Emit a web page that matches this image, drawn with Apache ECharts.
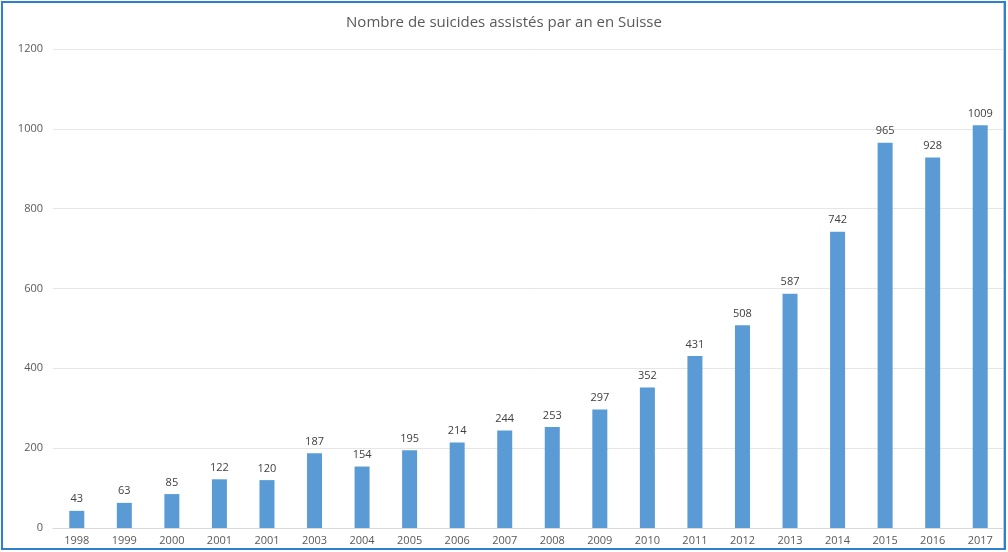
<!DOCTYPE html>
<html>
<head>
<meta charset="utf-8">
<script src="https://cdn.jsdelivr.net/npm/echarts@6/dist/echarts.min.js"></script>
<style>
html,body{margin:0;padding:0;background:#fff;}
#c{width:1008px;height:552px;}
</style>
</head>
<body>
<div id="c"></div>
<script>
const titleText = 'Nombre de suicides assistés par an en Suisse';
const categories = ['1998','1999','2000','2001','2001','2003','2004','2005','2006','2007','2008','2009','2010','2011','2012','2013','2014','2015','2016','2017'];
const values = [43,63,85,122,120,187,154,195,214,244,253,297,352,431,508,587,742,965,928,1009];
const yTicks = {min:0, max:1200, interval:200};

const chart = echarts.init(document.getElementById('c'), null, {renderer:'canvas'});
chart.setOption({
  backgroundColor:'#ffffff',
  animation:false,
  title:{
    text:titleText, left:'center', top:10,
    textStyle:{fontFamily:'Open Sans', fontSize:15, fontWeight:'normal', color:'#595959'}
  },
  grid:{left:53, right:4, top:49, bottom:24, containLabel:false},
  xAxis:{
    type:'category', data:categories,
    axisLine:{show:true, lineStyle:{color:'#d9d9d9', width:1}},
    axisTick:{show:false},
    axisLabel:{fontFamily:'Open Sans', fontSize:11, color:'#595959', margin:7, interval:0}
  },
  yAxis:{
    type:'value', min:yTicks.min, max:yTicks.max, interval:yTicks.interval,
    axisLine:{show:false}, axisTick:{show:false},
    splitLine:{lineStyle:{color:'#e6e6e6', width:1}},
    axisLabel:{fontFamily:'Open Sans', fontSize:11, color:'#595959', margin:10, formatter:function(v){return String(v);}}
  },
  series:[{
    type:'bar', data:values, barWidth:15,
    itemStyle:{color:'#5b9bd5'},
    label:{show:true, position:'top', distance:6, fontFamily:'Open Sans', fontSize:11, color:'#404040'}
  }],
  graphic:[
    {type:'rect', shape:{x:2, y:2, width:1003, height:547}, style:{fill:'none', stroke:'#2f7fd1', lineWidth:2}, z:100},
    {type:'line', shape:{x1:1003.5, y1:3, x2:1003.5, y2:548}, style:{stroke:'#c8c8c8', lineWidth:1}, z:100}
  ]
});
</script>
</body>
</html>
